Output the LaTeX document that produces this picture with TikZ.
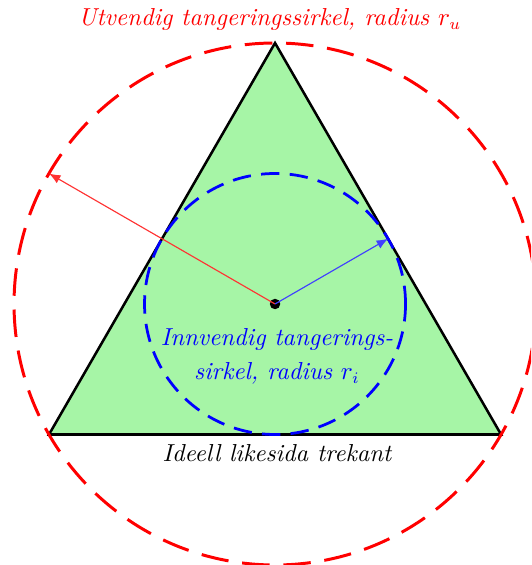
\documentclass[tikz,border=0pt]{standalone}
\usepackage{tikz}
\usetikzlibrary{arrows.meta}
\definecolor{trekantgronn}{RGB}{166,245,166}
\begin{document}
\begin{tikzpicture}[every node/.style={font=\itshape\fontsize{10.7}{15}\selectfont},
		ytre/.style={red, line width=1.3pt, dash pattern=on 12pt off 6pt},
		indre/.style={blue, line width=1.2pt, dash pattern=on 8pt off 4.5pt},
		radius/.style={-{Latex[length=5pt, width=4pt]}, line width=0.5pt}]
			\clip (-4.215,-4.0) rectangle (3.923,4.659);

			\coordinate (A) at (90:4);
			\coordinate (B) at (210:4);
			\coordinate (C) at (330:4);
			\coordinate (U) at (150:4);
			\coordinate (I) at (30:2);

			\draw[fill=trekantgronn, line width=1.1pt] (A) -- (B) -- (C) -- cycle;
			\draw[indre] (0,0) circle (2);
			\draw[ytre] (0,0) circle (4);

			\node[circle, fill=black, inner sep=0pt, minimum size=0.16cm] (O) at (0,0) {};

			\draw[radius, red!80] (O.center) -- (U);
			\draw[radius, blue!75] (O.center) -- (I);

			\node[red] (ytretekst) at (-0.08,4.36) {Utvendig tangeringssirkel, radius $r_u$};
			\node[blue, align=center] (indretekst) at (0.03,-0.8) {Innvendig tangerings-\\sirkel, radius $r_i$};
			\node (trekanttekst) at (0.03,-2.29) {Ideell likesida trekant};
		\end{tikzpicture}
\end{document}
